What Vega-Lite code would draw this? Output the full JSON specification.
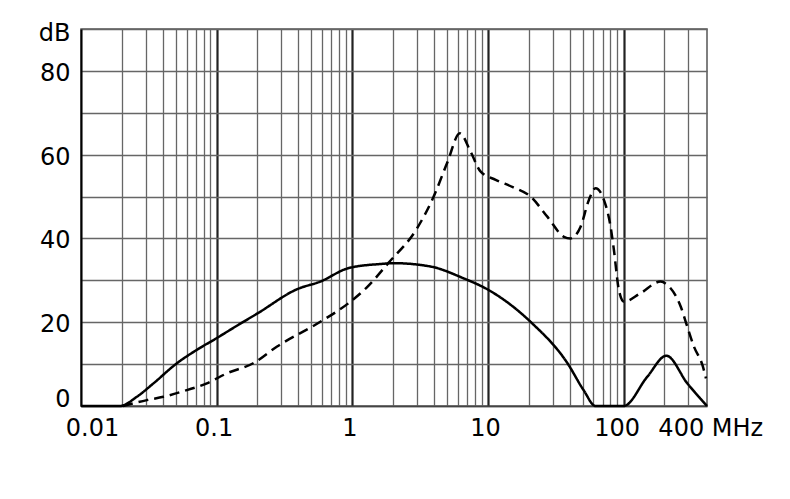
{
  "$schema": "https://vega.github.io/schema/vega-lite/v6.json",
  "width": 626,
  "height": 377,
  "autosize": "none",
  "padding": {"left": 81, "top": 29, "right": 83, "bottom": 93},
  "background": "white",
  "config": {
    "view": {"stroke": "#555", "strokeWidth": 1.5},
    "font": "DejaVu Sans"
  },
  "data": {
    "values": [
      {"f": 0.01, "db": 0, "s": "solid"},
      {"f": 0.0194, "db": 0, "s": "solid"},
      {"f": 0.0258, "db": 2.2, "s": "solid"},
      {"f": 0.0342, "db": 5.4, "s": "solid"},
      {"f": 0.0509, "db": 10.2, "s": "solid"},
      {"f": 0.0714, "db": 13.4, "s": "solid"},
      {"f": 0.1, "db": 16.2, "s": "solid"},
      {"f": 0.145, "db": 19.4, "s": "solid"},
      {"f": 0.2, "db": 22.1, "s": "solid"},
      {"f": 0.393, "db": 27.9, "s": "solid"},
      {"f": 0.581, "db": 29.7, "s": "solid"},
      {"f": 0.934, "db": 32.9, "s": "solid"},
      {"f": 1.61, "db": 33.9, "s": "solid"},
      {"f": 2.01, "db": 34.1, "s": "solid"},
      {"f": 3.77, "db": 33.3, "s": "solid"},
      {"f": 6.59, "db": 30.5, "s": "solid"},
      {"f": 10.1, "db": 27.7, "s": "solid"},
      {"f": 20.6, "db": 20.1, "s": "solid"},
      {"f": 38.6, "db": 10.2, "s": "solid"},
      {"f": 50.7, "db": 3.8, "s": "solid"},
      {"f": 62.1, "db": 0, "s": "solid"},
      {"f": 100, "db": 0, "s": "solid"},
      {"f": 149.6, "db": 7.0, "s": "solid"},
      {"f": 206.6, "db": 12.0, "s": "solid"},
      {"f": 295, "db": 5.4, "s": "solid"},
      {"f": 412, "db": 0, "s": "solid"},
      {"f": 0.0204, "db": 0, "s": "dashed"},
      {"f": 0.0306, "db": 1.4, "s": "dashed"},
      {"f": 0.0405, "db": 2.2, "s": "dashed"},
      {"f": 0.0603, "db": 3.8, "s": "dashed"},
      {"f": 0.0847, "db": 5.4, "s": "dashed"},
      {"f": 0.119, "db": 7.8, "s": "dashed"},
      {"f": 0.186, "db": 10.2, "s": "dashed"},
      {"f": 0.279, "db": 14.2, "s": "dashed"},
      {"f": 0.581, "db": 20.1, "s": "dashed"},
      {"f": 0.934, "db": 24.5, "s": "dashed"},
      {"f": 1.27, "db": 28.2, "s": "dashed"},
      {"f": 1.84, "db": 34.1, "s": "dashed"},
      {"f": 3.0, "db": 42.4, "s": "dashed"},
      {"f": 3.98, "db": 50.0, "s": "dashed"},
      {"f": 5.0, "db": 58.0, "s": "dashed"},
      {"f": 6.21, "db": 65.1, "s": "dashed"},
      {"f": 7.43, "db": 60.8, "s": "dashed"},
      {"f": 8.81, "db": 56.0, "s": "dashed"},
      {"f": 11.4, "db": 54.0, "s": "dashed"},
      {"f": 15.4, "db": 52.2, "s": "dashed"},
      {"f": 20.6, "db": 50.0, "s": "dashed"},
      {"f": 27.4, "db": 45.2, "s": "dashed"},
      {"f": 36.3, "db": 40.4, "s": "dashed"},
      {"f": 40.6, "db": 40.0, "s": "dashed"},
      {"f": 48.2, "db": 42.8, "s": "dashed"},
      {"f": 55.5, "db": 49.2, "s": "dashed"},
      {"f": 62.1, "db": 52.0, "s": "dashed"},
      {"f": 71.6, "db": 49.2, "s": "dashed"},
      {"f": 80.2, "db": 42.8, "s": "dashed"},
      {"f": 84.8, "db": 37.3, "s": "dashed"},
      {"f": 92.3, "db": 27.7, "s": "dashed"},
      {"f": 100.6, "db": 24.9, "s": "dashed"},
      {"f": 133, "db": 26.9, "s": "dashed"},
      {"f": 187.5, "db": 29.7, "s": "dashed"},
      {"f": 210, "db": 28.9, "s": "dashed"},
      {"f": 264, "db": 23.7, "s": "dashed"},
      {"f": 295, "db": 18.9, "s": "dashed"},
      {"f": 330, "db": 14.2, "s": "dashed"},
      {"f": 381, "db": 9.8, "s": "dashed"},
      {"f": 405, "db": 6.6, "s": "dashed"}
    ]
  },
  "mark": {"type": "line", "interpolate": "monotone", "color": "black", "strokeWidth": 2.5},
  "encoding": {
    "x": {
      "field": "f",
      "type": "quantitative",
      "scale": {"type": "log", "domain": [0.01, 412]},
      "axis": {
        "title": null,
        "values": [0.01, 0.02, 0.03, 0.04, 0.05, 0.06, 0.07, 0.08, 0.09, 0.1, 0.2, 0.3, 0.4, 0.5, 0.6, 0.7, 0.8, 0.9, 1, 2, 3, 4, 5, 6, 7, 8, 9, 10, 20, 30, 40, 50, 60, 70, 80, 90, 100, 200, 300, 400],
        "ticks": false,
        "labelExpr": "datum.value == 400 ? '400 MHz' : datum.value == 0.01 ? '0.01' : datum.value == 0.1 ? '0.1' : datum.value == 1 ? '1' : datum.value == 10 ? '10' : datum.value == 100 ? '100' : ''",
        "labelFontSize": 24,
        "labelColor": "black",
        "labelPadding": 10,
        "labelOverlap": false,
        "labelFlush": false,
        "labelBound": false,
        "labelOffset": {"condition": [{"test": "datum.value == 0.01", "value": 11}, {"test": "datum.value == 100", "value": -7}, {"test": "datum.value == 400", "value": 5}], "value": -3},
        "gridColor": {"condition": {"test": "indexof([0.1, 1, 10, 100], datum.value) >= 0", "value": "#222"}, "value": "#666"},
        "gridWidth": {"condition": {"test": "indexof([0.1, 1, 10, 100], datum.value) >= 0", "value": 2.2}, "value": 1.3},
        "gridOpacity": {"condition": {"test": "datum.value == 400", "value": 0}, "value": 1},
        "domainColor": "#444",
        "domainWidth": 1.5
      }
    },
    "y": {
      "field": "db",
      "type": "quantitative",
      "scale": {"domain": [0, 90], "nice": false},
      "axis": {
        "title": null,
        "values": [0, 10, 20, 30, 40, 50, 60, 70, 80, 90],
        "ticks": false,
        "labelExpr": "datum.value == 90 ? 'dB' : (datum.value % 20 == 0 ? datum.label : '')",
        "labelFontSize": 24,
        "labelColor": "black",
        "labelPadding": 11,
        "labelBaseline": "middle",
        "labelOverlap": false,
        "labelFlush": false,
        "labelBound": false,
        "labelOffset": {"condition": [{"test": "datum.value == 0", "value": -7}, {"test": "datum.value == 90", "value": 4.5}], "value": 2.5},
        "gridColor": "#666",
        "gridWidth": 1.3,
        "domainColor": "black",
        "domainWidth": 2
      }
    },
    "strokeDash": {
      "field": "s",
      "type": "nominal",
      "scale": {"domain": ["solid", "dashed"], "range": [[1, 0], [10, 6]]},
      "legend": null
    }
  }
}
